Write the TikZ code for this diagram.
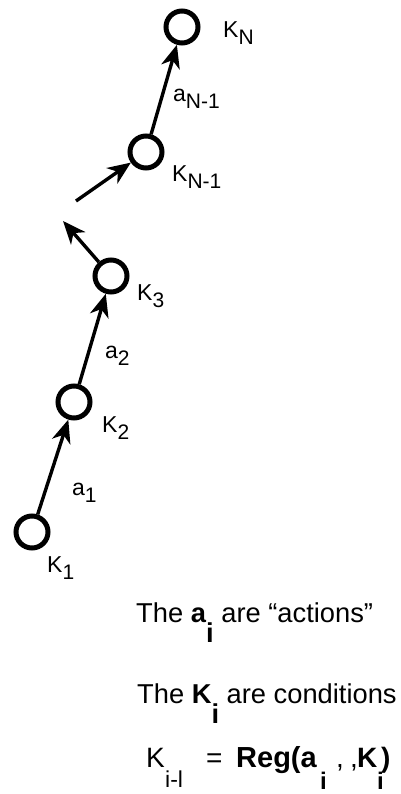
\documentclass[tikz,border=0pt]{standalone}
\usepackage{fontspec}
\setmainfont{Liberation Sans}
\usetikzlibrary{arrows.meta}
\begin{document}
\begin{tikzpicture}[x=1pt,y=-1pt,
  state/.style={circle,draw,line width=5pt,minimum size=32pt,inner sep=0pt},
  act/.style={line width=3.4pt,-{Stealth[length=23pt,width=19pt,inset=7pt]}},
  lab/.style={anchor=base west,inner sep=0pt,font=\fontsize{23}{23}\selectfont},
  txt/.style={anchor=base west,inner sep=0pt,font=\fontsize{27.3}{27.3}\selectfont},
  eqt/.style={anchor=base west,inner sep=0pt,font=\fontsize{28}{28}\selectfont}]
\newcommand{\lsub}[2]{#1\raisebox{-7pt}{\fontsize{21}{21}\selectfont #2}}
\useasboundingbox (0,0) rectangle (400,794);
% states
\node[state] (kn)  at (182,27) {};
\node[state] (kn1) at (146,152) {};
\node[state] (k3)  at (111,276) {};
\node[state] (k2)  at (74,402) {};
\node[state] (k1)  at (32,532) {};
\coordinate (free) at (76,201);
\coordinate (tip) at (63,221);
% actions
\draw[act] (k1) -- (k2);
\draw[act] (k2) -- (k3);
\draw[act] (k3) -- (tip);
\draw[act] (free) -- (kn1);
\draw[act] (kn1) -- (kn);
% labels
\node[lab] (lkn)  at (223,38)  {\lsub{K}{N}};
\node[lab] (lan1) at (173,102) {\lsub{a}{N-1}};
\node[lab] (lkn1) at (172,182) {\lsub{K}{N-1}};
\node[lab] (lk3)  at (137,300) {\lsub{K}{3}};
\node[lab] (la2)  at (105,358) {\lsub{a}{2}};
\node[lab] (lk2)  at (102,432) {\lsub{K}{2}};
\node[lab] (la1)  at (72,495)  {\lsub{a}{1}};
\node[lab] (lk1)  at (47,572)  {\lsub{K}{1}};
% text
\node[txt] (t1) at (136,622) {The \textbf{a}\raisebox{-20pt}{\textbf{i}} are “actions”};
\node[txt] (t2) at (137,703) {The \textbf{K}\raisebox{-20pt}{\textbf{i}} are conditions};
\node[eqt] (e1) at (146,767) {K};
\node[eqt,font=\fontsize{23}{23}\selectfont] (e2) at (165,787) {i-l};
\node[eqt] (e3) at (206,767) {=};
\node[eqt,font=\fontsize{29}{29}\bfseries] (e4) at (236,767) {Reg(a};
\node[eqt,font=\fontsize{24}{24}\bfseries] (e5) at (320,789) {i};
\node[eqt] (e6) at (336,767) {,};
\node[eqt] (e7) at (350,767) {,};
\node[eqt,font=\fontsize{28}{28}\bfseries] (e8) at (357,767) {K};
\node[eqt,font=\fontsize{24}{24}\bfseries] (e9) at (377,789) {i};
\node[eqt,font=\fontsize{28}{28}\bfseries] (e10) at (381,767) {)};
\end{tikzpicture}
\end{document}
